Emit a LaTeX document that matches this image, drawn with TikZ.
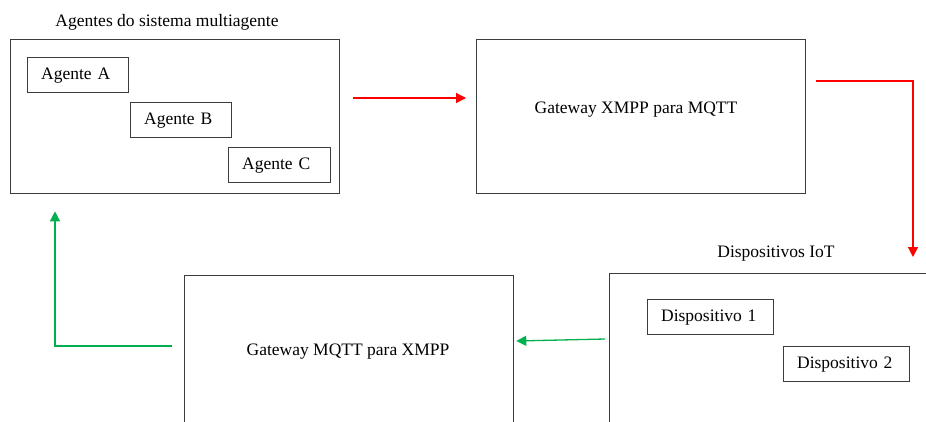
\documentclass[tikz,border=0pt]{standalone}
\usepackage{fontspec}
\setmainfont{Liberation Serif}
\usetikzlibrary{arrows.meta,calc}
\definecolor{flowgreen}{RGB}{0,176,80}
\definecolor{flowred}{RGB}{255,0,0}
\definecolor{framegray}{RGB}{60,60,60}
\begin{document}
\begin{tikzpicture}[x=1pt,y=-1pt,
  every node/.style={font=\fontsize{17.5}{21}\selectfont},
  frame/.style={draw=framegray, line width=1.3pt, inner sep=0pt, anchor=north west},
  tag/.style={frame, align=left, inner xsep=13.5pt, minimum height=35pt},
  redflow/.style={color=flowred, line width=1.3pt, -{Triangle[length=10pt,width=10pt]}},
  greenflow/.style={color=flowgreen, line width=1.3pt, -{Triangle[length=10pt,width=10pt]}}]
\useasboundingbox (0,0) rectangle (926,421);
\fill[white] (0,0) rectangle (926,421);
\clip (0,0) rectangle (926,421);

% multi-agent system
\node (agentstitle) at (167,22) {Agentes do sistema multiagente};
\node[frame, minimum width=329pt, minimum height=154pt] (agents) at (10,39) {};
\node[tag, text width=74pt] (agA) at (27,57) {Agente A};
\node[tag, text width=74pt] (agB) at (130,102) {Agente B};
\node[tag, text width=75pt] (agC) at (228,147) {Agente C};

% XMPP -> MQTT gateway
\node[frame, minimum width=329pt, minimum height=154pt] (gwx) at (476,39) {};
\node (gwxlabel) at (636,110) {Gateway XMPP para MQTT};

% IoT devices
\node (iottitle) at (776,254) {Dispositivos IoT};
\node[frame, minimum width=340pt, minimum height=200pt] (iot) at (609,273) {};
\node[tag, text width=99pt] (dev1) at (647,299) {Dispositivo 1};
\node[tag, text width=99pt] (dev2) at (783,346) {Dispositivo 2};

% MQTT -> XMPP gateway
\node[frame, minimum width=329pt, minimum height=200pt] (gwm) at (184,275) {};
\node (gwmlabel) at (348,352) {Gateway MQTT para XMPP};

% message flow
\draw[redflow] ([xshift=13pt,yshift=-59pt]agents.north east) -- ([xshift=-10pt,yshift=-59pt]gwx.north west);
\draw[redflow] ([xshift=10pt,yshift=-42pt]gwx.north east) -| ([xshift=304pt,yshift=16pt]iot.north west);
\draw[greenflow] ([xshift=-4pt,yshift=-66pt]iot.north west) -- ([xshift=2pt,yshift=-66pt]gwm.north east);
\draw[greenflow] ([xshift=-12pt,yshift=-71pt]gwm.north west) -| ([xshift=45pt,yshift=-17pt]agents.south west);
\end{tikzpicture}
\end{document}
